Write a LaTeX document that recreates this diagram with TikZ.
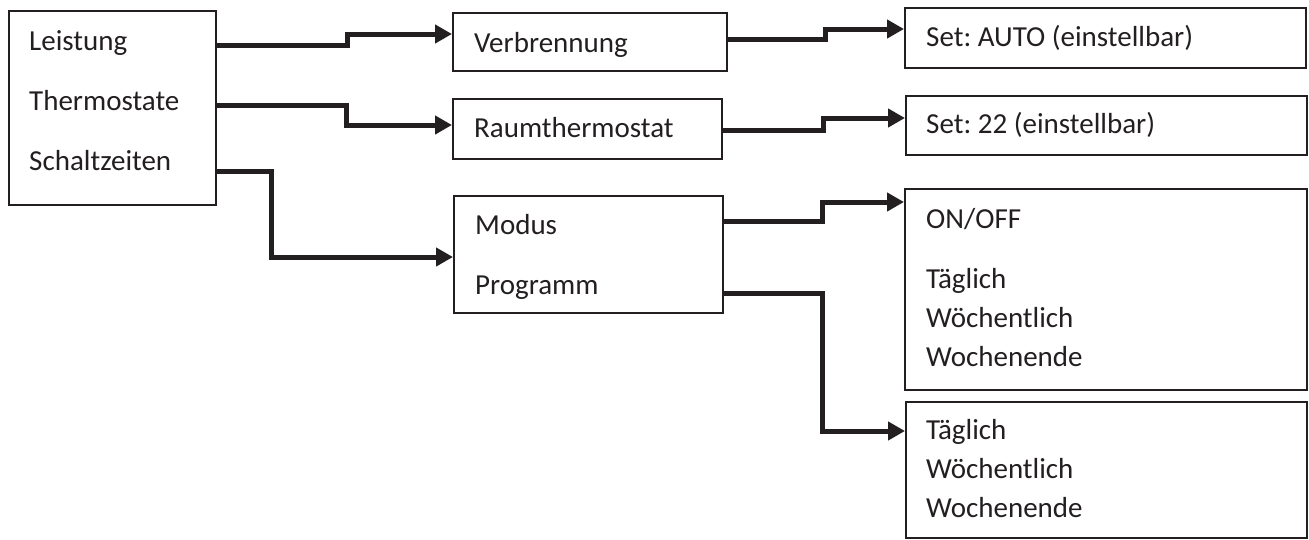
\documentclass[tikz,border=0pt]{standalone}
\usepackage{fontspec}
\setmainfont{Carlito}
\usetikzlibrary{arrows.meta}
\definecolor{ink}{RGB}{35,31,32}
\frenchspacing
\begin{document}
\begin{tikzpicture}[x=1pt,y=-1pt,
  box/.style={draw=ink, line width=1.8pt, rectangle, anchor=north west, inner sep=0pt},
  lbl/.style={anchor=base west, inner sep=0pt, text=ink, font=\fontsize{29}{35}\selectfont},
  conn/.style={draw=ink, line width=5pt, line join=miter, -{Triangle[length=17pt,width=18pt]}}]
\useasboundingbox (0,0) rectangle (1309,539);
% boxes
\node[box, minimum width=207pt, minimum height=194pt] (A) at (8,10) {};
\node[box, minimum width=274pt, minimum height=58pt]  (B) at (452,12) {};
\node[box, minimum width=269pt, minimum height=60pt]  (C) at (452,98) {};
\node[box, minimum width=269pt, minimum height=117pt] (D) at (453,195) {};
\node[box, minimum width=401pt, minimum height=60pt]  (F) at (904,7) {};
\node[box, minimum width=401pt, minimum height=59pt]  (G) at (905,95) {};
\node[box, minimum width=402pt, minimum height=201pt] (E) at (904,188) {};
\node[box, minimum width=401pt, minimum height=136pt] (H) at (905,401) {};
% labels
\node[lbl] (a1) at (29,50) {Leistung};
\node[lbl] (a2) at (29,110) {Thermostate};
\node[lbl] (a3) at (29,170) {Schaltzeiten};
\node[lbl] (b1) at (474,52) {Verbrennung};
\node[lbl] (c1) at (474,137) {Raumthermostat};
\node[lbl] (d1) at (475,234) {Modus};
\node[lbl] (d2) at (475,294) {Programm};
\node[lbl] (f1) at (926,46) {Set: AUTO (einstellbar)};
\node[lbl] (g1) at (926,133) {Set: 22 (einstellbar)};
\node[lbl] (e1) at (926,228) {ON/OFF};
\node[lbl] (e2) at (926,288) {Täglich};
\node[lbl] (e3) at (926,327) {Wöchentlich};
\node[lbl] (e4) at (926,366) {Wochenende};
\node[lbl] (h1) at (926,439) {Täglich};
\node[lbl] (h2) at (926,478) {Wöchentlich};
\node[lbl] (h3) at (926,517) {Wochenende};
% connectors
\draw[conn] (A.east |- 0,45) -- (347,45) -- (347,34) -- (B.west |- 0,34);
\draw[conn] (A.east |- 0,105) -- (346,105) -- (346,125) -- (C.west |- 0,125);
\draw[conn] (A.east |- 0,171) -- (271,171) -- (271,257) -- (D.west |- 0,257);
\draw[conn] (B.east |- 0,39) -- (825,39) -- (825,29) -- (F.west |- 0,29);
\draw[conn] (C.east |- 0,130) -- (823,130) -- (823,118) -- (G.west |- 0,118);
\draw[conn] (D.east |- 0,221) -- (822,221) -- (822,202) -- (E.west |- 0,202);
\draw[conn] (D.east |- 0,293) -- (822,293) -- (822,431) -- (H.west |- 0,431);
\end{tikzpicture}
\end{document}
